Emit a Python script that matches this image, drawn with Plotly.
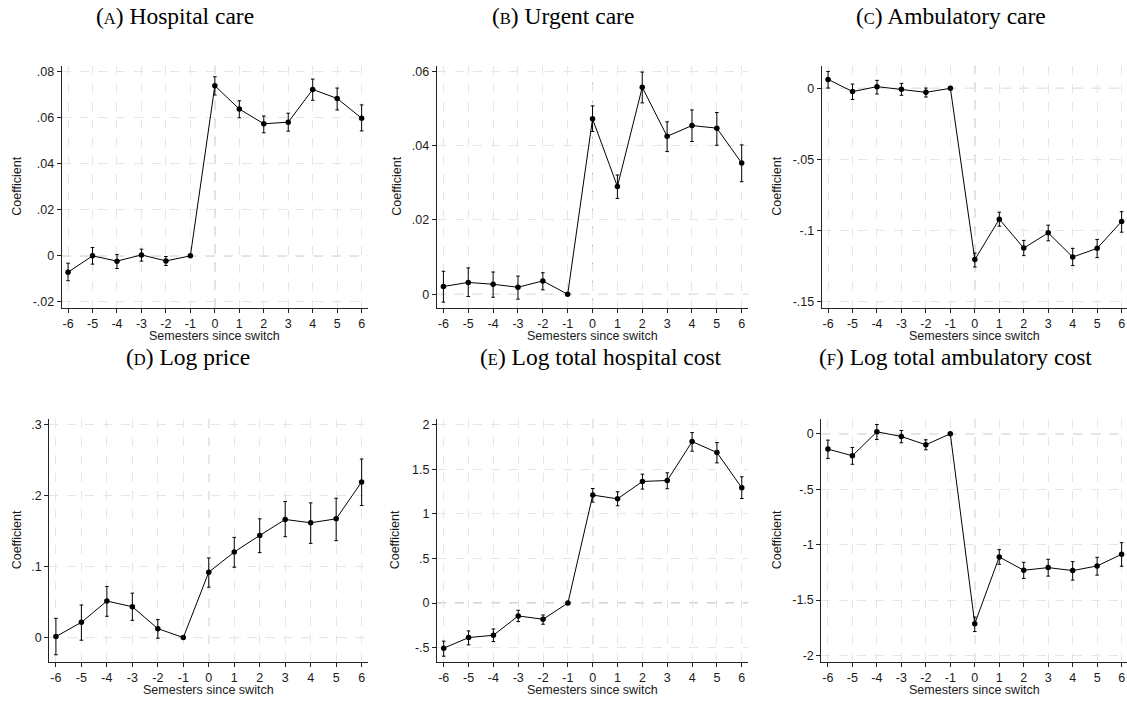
import plotly.graph_objects as go

# ---------------- data ----------------
semesters = [-6, -5, -4, -3, -2, -1, 0, 1, 2, 3, 4, 5, 6]
x_ticktext = ["-6", "-5", "-4", "-3", "-2", "-1", "0", "1", "2", "3", "4", "5", "6"]

hosp_coef = [-0.0071, 0.0000, -0.0023, 0.0004, -0.0022, 0.0, 0.0738, 0.0637, 0.0573, 0.0580, 0.0722, 0.0683, 0.0597]
hosp_hi   = [-0.0032, 0.0036, 0.0006, 0.0029, -0.0003, 0.0, 0.0777, 0.0673, 0.0607, 0.0619, 0.0767, 0.0728, 0.0655]
hosp_lo   = [-0.0108, -0.0036, -0.0055, -0.0023, -0.0042, 0.0, 0.0698, 0.0599, 0.0534, 0.0541, 0.0675, 0.0633, 0.0542]

urg_coef = [0.0021, 0.0032, 0.0027, 0.0019, 0.0036, 0.0, 0.0472, 0.0290, 0.0557, 0.0425, 0.0454, 0.0447, 0.0353]
urg_hi   = [0.0062, 0.0071, 0.0060, 0.0049, 0.0058, 0.0, 0.0507, 0.0321, 0.0598, 0.0464, 0.0496, 0.0489, 0.0402]
urg_lo   = [-0.0021, -0.0006, -0.0008, -0.0013, 0.0012, 0.0, 0.0438, 0.0258, 0.0515, 0.0384, 0.0411, 0.0401, 0.0303]

amb_coef = [0.0063, -0.0023, 0.0012, -0.0007, -0.0028, 0.0, -0.1204, -0.0920, -0.1123, -0.1016, -0.1186, -0.1125, -0.0936]
amb_hi   = [0.0119, 0.0030, 0.0056, 0.0035, 0.0002, 0.0, -0.1158, -0.0871, -0.1069, -0.0962, -0.1125, -0.1062, -0.0867]
amb_lo   = [0.0002, -0.0079, -0.0040, -0.0049, -0.0061, 0.0, -0.1256, -0.0969, -0.1176, -0.1072, -0.1246, -0.1190, -0.1011]

price_coef = [0.0014, 0.0215, 0.0515, 0.0435, 0.0126, 0.0, 0.0922, 0.1207, 0.1441, 0.1666, 0.1619, 0.1675, 0.2195]
price_hi   = [0.0271, 0.0459, 0.0721, 0.0627, 0.0253, 0.0, 0.1123, 0.1413, 0.1675, 0.1919, 0.1900, 0.1966, 0.2518]
price_lo   = [-0.0243, -0.0037, 0.0300, 0.0243, -0.0009, 0.0, 0.0711, 0.0992, 0.1198, 0.1423, 0.1329, 0.1367, 0.1863]

hcost_coef = [-0.507, -0.388, -0.362, -0.145, -0.182, 0.0, 1.212, 1.170, 1.365, 1.376, 1.813, 1.690, 1.294]
hcost_hi   = [-0.428, -0.313, -0.291, -0.081, -0.134, 0.0, 1.286, 1.249, 1.447, 1.462, 1.914, 1.802, 1.417]
hcost_lo   = [-0.597, -0.470, -0.433, -0.208, -0.238, 0.0, 1.133, 1.092, 1.279, 1.283, 1.705, 1.574, 1.174]

acost_coef = [-0.138, -0.198, 0.018, -0.024, -0.099, 0.0, -1.713, -1.111, -1.231, -1.207, -1.234, -1.192, -1.087]
acost_hi   = [-0.057, -0.123, 0.084, 0.030, -0.054, 0.0, -1.653, -1.045, -1.159, -1.132, -1.153, -1.114, -0.982]
acost_lo   = [-0.222, -0.275, -0.051, -0.081, -0.144, 0.0, -1.784, -1.177, -1.305, -1.284, -1.320, -1.275, -1.195]

titles = ["A", "Hospital care", "B", "Urgent care", "C", "Ambulatory care",
          "D", "Log price", "E", "Log total hospital cost", "F", "Log total ambulatory cost"]

yticks_A = [-0.02, 0, 0.02, 0.04, 0.06, 0.08]
ytext_A = ["-.02", "0", ".02", ".04", ".06", ".08"]
yticks_B = [0, 0.02, 0.04, 0.06]
ytext_B = ["0", ".02", ".04", ".06"]
yticks_C = [-0.15, -0.1, -0.05, 0]
ytext_C = ["-.15", "-.1", "-.05", "0"]
yticks_D = [0, 0.1, 0.2, 0.3]
ytext_D = ["0", ".1", ".2", ".3"]
yticks_E = [-0.5, 0, 0.5, 1, 1.5, 2]
ytext_E = ["-.5", "0", ".5", "1", "1.5", "2"]
yticks_F = [-2, -1.5, -1, -0.5, 0]
ytext_F = ["-2", "-1.5", "-1", "-.5", "0"]

# ---------------- layout geometry (pixels) ----------------
W, H = 1127, 702
panels = [
    (hosp_coef, hosp_hi, hosp_lo, yticks_A, ytext_A, (61.7, 368), (65, 308), (-6.26, 6.26), (-0.0225, 0.0825), 0, (175, 15), 17),
    (urg_coef, urg_hi, urg_lo, yticks_B, ytext_B, (436.7, 748.4), (65, 308), (-6.27, 6.27), (-0.0036, 0.0615), 1, (563, 15), 397),
    (amb_coef, amb_hi, amb_lo, yticks_C, ytext_C, (821.7, 1127), (65, 308), (-6.26, 6.22), (-0.1542, 0.0159), 2, (951, 15), 777),
    (price_coef, price_hi, price_lo, yticks_D, ytext_D, (49.3, 367.5), (419.3, 664), (-6.26, 6.23), (-0.0347, 0.309), 3, (188, 358), 17),
    (hcost_coef, hcost_hi, hcost_lo, yticks_E, ytext_E, (437, 748), (419.3, 664), (-6.27, 6.25), (-0.664, 2.072), 4, (601, 358), 395),
    (acost_coef, acost_hi, acost_lo, yticks_F, ytext_F, (821.3, 1127), (419.3, 664), (-6.27, 6.22), (-2.06, 0.138), 5, (955, 358), 777),
]

fig = go.Figure()
annotations = []
shapes = []
sans = "Liberation Sans, Arial, sans-serif"
tick_font = dict(family=sans, size=12.5, color="#1a1a1a")
grid_col = "#e6e6e6"
zero_col = "#a8a8a8"

for i, (coef, hi, lo, ytv, ytt, xpx, ypx, xr, yr, tidx, tpos, ytx) in enumerate(panels):
    n = i + 1
    xa = "x" if n == 1 else f"x{n}"
    ya = "y" if n == 1 else f"y{n}"
    xkey = "xaxis" if n == 1 else f"xaxis{n}"
    ykey = "yaxis" if n == 1 else f"yaxis{n}"
    err_plus = [h - c for h, c in zip(hi, coef)]
    err_minus = [c - l for c, l in zip(coef, lo)]
    fig.add_trace(go.Scatter(
        x=semesters, y=coef, xaxis=xa, yaxis=ya, mode="lines+markers",
        line=dict(color="black", width=1),
        marker=dict(color="black", size=5.5),
        error_y=dict(type="data", symmetric=False, array=err_plus, arrayminus=err_minus,
                     color="black", thickness=1, width=1.8),
        showlegend=False, hoverinfo="skip", cliponaxis=False,
    ))
    xd = [xpx[0] / W, xpx[1] / W]
    yd = [1 - ypx[1] / H, 1 - ypx[0] / H]
    common = dict(
        showgrid=True, gridcolor=grid_col, griddash="dash", gridwidth=1,
        zeroline=False, showline=True, linecolor="#222222", linewidth=1,
        ticks="outside", ticklen=4, tickcolor="#222222", tickwidth=1,
        tickfont=tick_font, fixedrange=True,
    )
    fig.layout[xkey] = dict(domain=xd, range=list(xr), anchor=ya,
                            tickvals=semesters, ticktext=x_ticktext, **common)
    fig.layout[ykey] = dict(domain=yd, range=list(yr), anchor=xa,
                            tickvals=ytv, ticktext=ytt, **common)
    # reference lines at zero
    shapes.append(dict(type="line", xref=xa, yref=f"{ya} domain", x0=0, x1=0, y0=0, y1=1,
                       line=dict(color=zero_col, width=1, dash="dash"), layer="below"))
    shapes.append(dict(type="line", xref=f"{xa} domain", yref=ya, x0=0, x1=1, y0=0, y1=0,
                       line=dict(color=zero_col, width=1, dash="dash"), layer="below"))
    # panel title
    letter = titles[2 * tidx]
    name = titles[2 * tidx + 1]
    annotations.append(dict(
        text=f"(<span style='font-size:16.5px'>{letter}</span>) {name}",
        x=tpos[0] / W, y=1 - tpos[1] / H, xref="paper", yref="paper",
        xanchor="center", yanchor="middle", showarrow=False,
        font=dict(family="Liberation Serif, Times New Roman, serif", size=23.5, color="black"),
    ))
    # axis titles
    annotations.append(dict(
        text="Coefficient", x=ytx / W, y=1 - (ypx[0] + ypx[1]) / 2 / H,
        xref="paper", yref="paper", xanchor="center", yanchor="middle",
        textangle=-90, showarrow=False, font=dict(family=sans, size=12.5, color="#1a1a1a"),
    ))
    xr_px = xpx[1] if i % 3 != 2 else 1127
    annotations.append(dict(
        text="Semesters since switch", x=(xpx[0] + xr_px) / 2 / W,
        y=1 - (ypx[1] + 28) / H,
        xref="paper", yref="paper", xanchor="center", yanchor="middle",
        showarrow=False, font=dict(family=sans, size=12.5, color="#1a1a1a"),
    ))

fig.update_layout(
    width=W, height=H, margin=dict(l=0, r=0, t=0, b=0),
    paper_bgcolor="white", plot_bgcolor="white",
    annotations=annotations, shapes=shapes, showlegend=False,
)

fig.write_html("out.html")
